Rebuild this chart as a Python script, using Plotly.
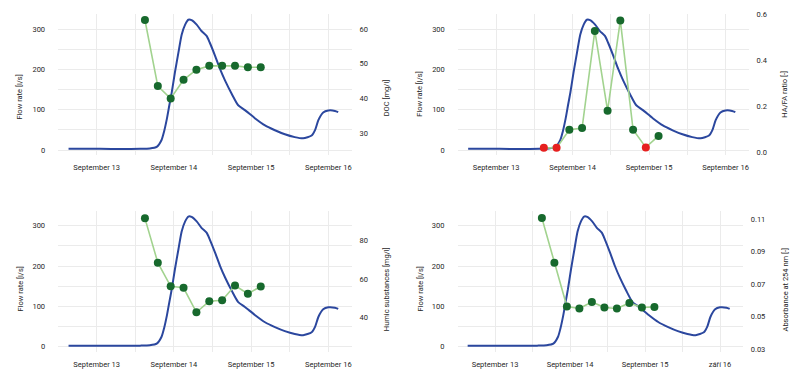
import plotly.graph_objects as go

# ---------------- data ----------------
flow_time = [
    "2020-09-12 15:15", "2020-09-12 20:00", "2020-09-13 01:00", "2020-09-13 08:00",
    "2020-09-13 13:30", "2020-09-13 16:30", "2020-09-13 18:40", "2020-09-13 20:10",
    "2020-09-13 20:55", "2020-09-13 21:50", "2020-09-13 22:35", "2020-09-13 23:20",
    "2020-09-14 00:20", "2020-09-14 01:25", "2020-09-14 02:25", "2020-09-14 03:30",
    "2020-09-14 04:30", "2020-09-14 05:30", "2020-09-14 07:05", "2020-09-14 08:35",
    "2020-09-14 10:10", "2020-09-14 11:10", "2020-09-14 12:50", "2020-09-14 14:20",
    "2020-09-14 15:55", "2020-09-14 18:00", "2020-09-14 20:00", "2020-09-14 22:05",
    "2020-09-15 01:10", "2020-09-15 04:20", "2020-09-15 07:25", "2020-09-15 10:30",
    "2020-09-15 13:35", "2020-09-15 16:10", "2020-09-15 18:50", "2020-09-15 19:55",
    "2020-09-15 20:55", "2020-09-15 22:25", "2020-09-16 00:00", "2020-09-16 02:05",
    "2020-09-16 03:05",
]
flow_value = [
    3, 3, 3, 2.5,
    3, 4, 8, 25,
    45, 78, 111, 143,
    193, 242, 286, 311,
    323, 322, 311, 295,
    283, 266, 233, 201,
    172, 139, 111, 99,
    79, 61, 49, 39,
    32, 29, 36, 50,
    74, 93, 98, 97,
    94,
]

sample_time = [
    "2020-09-13 15:00", "2020-09-13 19:00", "2020-09-13 23:00", "2020-09-14 03:00",
    "2020-09-14 07:00", "2020-09-14 11:00", "2020-09-14 15:00", "2020-09-14 19:00",
    "2020-09-14 23:00", "2020-09-15 03:00",
]
doc_value = [62.6, 43.6, 40.0, 45.4, 48.3, 49.4, 49.4, 49.4, 49.0, 49.0]
hafa_value = [0.018, 0.018, 0.097, 0.104, 0.527, 0.180, 0.573, 0.097, 0.020, 0.070]
hafa_below_limit = [True, True, False, False, False, False, False, False, True, False]
humic_value = [91.6, 68.5, 56.2, 55.4, 42.6, 48.4, 48.9, 56.6, 52.3, 56.1]
abs_value = [0.1106, 0.0832, 0.0563, 0.0551, 0.0591, 0.0557, 0.0551, 0.0585, 0.0557, 0.0561]

x_tickvals = ["2020-09-13", "2020-09-14", "2020-09-15", "2020-09-16"]
x_ticktext = ["September 13", "September 14", "September 15", "September 16"]
x_ticktext_cz = ["September 13", "September 14", "September 15", "září 16"]

flow_title = "Flow rate [l/s]"
flow_ticks = [0, 100, 200, 300]
doc_ticks = [30, 40, 50, 60]
hafa_ticks = [0.0, 0.2, 0.4, 0.6]
humic_ticks = [40, 60, 80]
abs_ticks = [0.03, 0.05, 0.07, 0.09, 0.11]

# ---------------- style ----------------
# the page body keeps its default 8px margin, so the figure is 8px smaller
OFF = 8
W, H = 800 - OFF, 383 - OFF
FONT = "Roboto"
FS = 7.5
TXT = "#1f1f1f"
BLUE = "#2b479e"
LGREEN = "#a2d38f"
DGREEN = "#17692d"
RED = "#e6201f"
GRID = "#ebebeb"


def px_x(a, b):
    return [(a - OFF) / W, (b - OFF) / W]


def px_y(top, bottom):
    return [1 - (bottom - OFF) / H, 1 - (top - OFF) / H]


panels = [
    dict(xd=px_x(58.1, 351.6), yd=px_y(10, 153.3), frange=[-12.2, 337.3],
         vals=doc_value, srange=[23.77, 64.33], sticks=doc_ticks, sfmt="",
         stitle="DOC [mg/l]", lx=20, rx=386.7, ty=95, ttext=x_ticktext,
         colors=[DGREEN] * len(doc_value)),
    dict(xd=px_x(457.8, 748.6), yd=px_y(10, 153.3), frange=[-12.2, 337.3],
         vals=hafa_value, srange=[-0.013, 0.601], sticks=hafa_ticks, sfmt=".1f",
         stitle="HA/FA ratio [-]", lx=420, rx=785, ty=92, ttext=x_ticktext,
         colors=[RED if f else DGREEN for f in hafa_below_limit]),
    dict(xd=px_x(58.1, 351.6), yd=px_y(210.7, 353.3), frange=[-12.2, 335.6],
         vals=humic_value, srange=[22.05, 95.2], sticks=humic_ticks, sfmt="",
         stitle="Humic substances [mg/l]", lx=20, rx=386.7, ty=290, ttext=x_ticktext,
         colors=[DGREEN] * len(humic_value)),
    dict(xd=px_x(457.5, 742.7), yd=px_y(210.7, 353.3), frange=[-12.2, 335.6],
         vals=abs_value, srange=[0.0286, 0.1146], sticks=abs_ticks, sfmt=".2f",
         stitle="Absorbance at 254 nm [-]", lx=420, rx=785, ty=290, ttext=x_ticktext_cz,
         colors=[DGREEN] * len(abs_value)),
]

fig = go.Figure()
layout = dict(
    width=W, height=H, margin=dict(l=0, r=0, t=0, b=0),
    paper_bgcolor="white", plot_bgcolor="white", showlegend=False,
    font=dict(family=FONT, size=FS, color=TXT),
)
annotations = []
tickfont = dict(family=FONT, size=FS, color=TXT)

for i, p in enumerate(panels):
    xn = "" if i == 0 else str(i + 1)
    yb = "" if i == 0 else str(2 * i + 1)
    ys = str(2 * i + 2)

    fig.add_trace(go.Scatter(
        x=flow_time, y=flow_value, mode="lines", xaxis="x" + xn, yaxis="y" + yb,
        line=dict(color=BLUE, width=2, shape="spline", smoothing=0.6),
        hoverinfo="skip"))
    fig.add_trace(go.Scatter(
        x=sample_time, y=p["vals"], mode="lines+markers", xaxis="x" + xn, yaxis="y" + ys,
        line=dict(color=LGREEN, width=1.6),
        marker=dict(color=p["colors"], size=8, line=dict(width=0)),
        hoverinfo="skip"))

    layout["xaxis" + xn] = dict(
        domain=p["xd"], anchor="y" + yb, type="date",
        range=["2020-09-12 12:00", "2020-09-16 07:15"],
        tickmode="array", tickvals=x_tickvals, ticktext=p["ttext"],
        showgrid=True, gridcolor=GRID, gridwidth=1.3,
        minor=dict(tickmode="linear", tick0="2020-09-12", dtick=43200000,
                   showgrid=True, gridcolor=GRID, gridwidth=0.7),
        zeroline=False, showline=False, ticks="", ticklabelstandoff=7,
        ticklabeloverflow="allow", tickfont=tickfont, fixedrange=True,
    )
    layout["yaxis" + yb] = dict(
        domain=p["yd"], anchor="x" + xn, range=p["frange"],
        tickmode="array", tickvals=flow_ticks,
        showgrid=True, gridcolor=GRID, gridwidth=1.3,
        minor=dict(tickmode="linear", tick0=0, dtick=50,
                   showgrid=True, gridcolor=GRID, gridwidth=0.7),
        zeroline=False, showline=False, ticks="", ticklabelstandoff=12,
        ticklabeloverflow="allow", tickfont=tickfont, fixedrange=True,
    )
    layout["yaxis" + ys] = dict(
        overlaying="y" + yb, side="right", anchor="x" + xn, range=p["srange"],
        tickmode="array", tickvals=p["sticks"], tickformat=p["sfmt"],
        showgrid=False, zeroline=False, showline=False, ticks="",
        ticklabelstandoff=7, ticklabeloverflow="allow", tickfont=tickfont,
        fixedrange=True,
    )
    annotations.append(dict(
        text=flow_title, xref="paper", yref="paper",
        x=(p["lx"] - OFF) / W, y=1 - (p["ty"] - OFF) / H,
        xanchor="center", yanchor="middle", textangle=-90, showarrow=False,
        font=dict(family=FONT, size=FS, color=TXT)))
    annotations.append(dict(
        text=p["stitle"], xref="paper", yref="paper",
        x=(p["rx"] - OFF) / W, y=1 - (p["ty"] - OFF) / H,
        xanchor="center", yanchor="middle", textangle=-90, showarrow=False,
        font=dict(family=FONT, size=FS, color=TXT)))

layout["annotations"] = annotations
fig.update_layout(**layout)
fig.write_html("out.html")
